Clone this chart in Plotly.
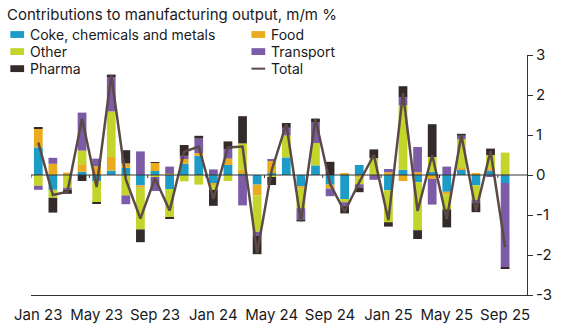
import plotly.graph_objects as go

months = ["Jan 23","Feb 23","Mar 23","Apr 23","May 23","Jun 23","Jul 23","Aug 23","Sep 23","Oct 23","Nov 23","Dec 23",
          "Jan 24","Feb 24","Mar 24","Apr 24","May 24","Jun 24","Jul 24","Aug 24","Sep 24","Oct 24","Nov 24","Dec 24",
          "Jan 25","Feb 25","Mar 25","Apr 25","May 25","Jun 25","Jul 25","Aug 25","Sep 25"]

coke = [0.69,-0.37,0.00,0.08,-0.16,0.11,0.18,-0.26,0.10,-0.35,0.28,0.48,
        -0.20,0.25,0.03,-0.24,0.05,0.44,-0.28,0.24,-0.24,-0.60,0.25,0.00,
        -0.38,0.13,-0.18,0.08,-0.42,0.13,-0.26,0.11,-0.20]
food = [0.47,0.28,0.06,0.19,0.22,0.34,0.11,-0.06,0.20,0.03,0.12,0.07,
        -0.05,0.16,0.10,-0.27,0.30,0.00,-0.05,0.00,-0.10,0.03,-0.06,0.00,
        0.07,-0.15,0.07,-0.10,-0.06,0.04,0.03,0.06,0.02]
other = [-0.27,-0.20,-0.32,0.34,-0.53,1.14,-0.51,-1.04,-0.05,-0.70,-0.16,-0.24,
         -0.12,-0.15,0.66,-0.91,-0.05,0.55,-0.50,0.56,0.00,-0.08,-0.17,0.42,
         -0.80,1.61,-1.20,0.37,-0.38,0.73,-0.36,0.33,0.54]
transport = [-0.10,0.15,-0.05,0.95,0.19,0.88,-0.22,0.59,-0.35,0.18,0.08,0.36,
             0.14,0.24,-0.76,-0.10,0.04,0.19,-0.28,0.51,-0.19,-0.10,-0.08,-0.12,
             0.08,0.20,0.63,-0.64,0.21,0.08,-0.08,-0.05,-2.10]
pharma = [0.02,-0.37,-0.10,-0.15,-0.02,0.04,0.33,-0.32,0.02,-0.04,0.27,0.07,
          -0.40,0.19,0.68,-0.46,-0.20,0.12,-0.05,0.10,0.33,-0.18,-0.12,0.22,
          -0.11,0.28,-0.22,0.82,-0.45,0.05,-0.23,0.16,-0.04]
total = [0.81,-0.50,-0.42,1.41,-0.30,2.50,-0.11,-1.09,-0.08,-0.89,0.58,0.71,
         -0.60,0.69,0.71,-1.95,0.12,1.28,-1.16,1.40,-0.22,-0.92,-0.18,0.50,
         -1.13,2.05,-0.90,0.50,-1.10,1.00,-0.90,0.60,-1.80]

series_names = ["Coke, chemicals and metals", "Food", "Other", "Transport", "Pharma"]
series_values = [coke, food, other, transport, pharma]
series_colors = ["#1c9cc6", "#e9ac1e", "#c3d52b", "#7c5ca6", "#342a29"]
total_name = "Total"
total_color = "#5b4a46"

xtick_idx = [0, 4, 8, 12, 16, 20, 24, 28, 32]
xtick_labels = ["Jan 23","May 23","Sep 23","Jan 24","May 24","Sep 24","Jan 25","May 25","Sep 25"]
boundary_ticks = [-0.5, 3.5, 7.5, 11.5, 15.5, 19.5, 23.5, 27.5, 31.5]
ytick_vals = [-3, -2, -1, 0, 1, 2, 3]
ytick_text = ["-3", "-2", "-1", "0", "1", "2", "3"]

W, H = 564, 336
L, R, T, B = 31, 535, 55, 301
FONT = "Inter"
FS = 15
LFS = 14
TXT = "#1a1a1a"

def px(x):
    return (x - L) / (R - L)

def py(y):
    return (B - y) / (B - T)

x = list(range(len(months)))
fig = go.Figure()
for name, vals, col in zip(series_names, series_values, series_colors):
    fig.add_trace(go.Bar(x=x, y=vals, name=name, marker=dict(color=col, line=dict(width=0)),
                         showlegend=False, hovertext=months))
fig.add_trace(go.Scatter(x=x, y=total, name=total_name, mode="lines",
                         line=dict(color=total_color, width=2.5), showlegend=False))

shapes = []
annotations = []
shapes.append(dict(type="line", xref="paper", yref="y", x0=0, x1=1, y0=0, y1=0,
                   line=dict(color="#333333", width=1), layer="above"))
for b in boundary_ticks:
    shapes.append(dict(type="line", xref="x", yref="y", ysizemode="pixel", yanchor=0,
                       x0=b, x1=b, y0=0, y1=-3, line=dict(color="#333333", width=1)))

legend_items = list(zip(series_names, series_colors)) + [(total_name, total_color)]
col_x = [10, 255]
row_y = [34, 51.5, 69]
for k, (name, col) in enumerate(legend_items):
    cx = col_x[k % 2]
    ry = row_y[k // 2]
    if name == total_name:
        shapes.append(dict(type="line", xref="paper", yref="paper",
                           x0=px(cx), x1=px(cx + 14), y0=py(ry), y1=py(ry),
                           line=dict(color=col, width=2)))
    else:
        shapes.append(dict(type="rect", xref="paper", yref="paper",
                           x0=px(cx), x1=px(cx + 14), y0=py(ry - 3.5), y1=py(ry + 3.5),
                           line=dict(width=0), fillcolor=col))
    annotations.append(dict(text=name, xref="paper", yref="paper", x=px(cx + 19), y=py(ry),
                            xanchor="left", yanchor="middle", showarrow=False,
                            borderpad=0, font=dict(family=FONT, size=LFS, color=TXT)))

fig.update_layout(
    width=W, height=H,
    margin=dict(l=L, r=W - R, t=T, b=H - B, pad=0),
    paper_bgcolor="white", plot_bgcolor="white",
    barmode="relative", bargap=0.4,
    title=dict(text="Contributions to manufacturing output, m/m %", x=7 / W, xref="container",
               xanchor="left", y=1 - 15 / H, yref="container", yanchor="middle",
               font=dict(family=FONT, size=FS, color=TXT)),
    xaxis=dict(range=[-0.5, 33.5], tickvals=xtick_idx, ticktext=xtick_labels, ticks="",
               showline=True, linecolor="#333333", linewidth=1, showgrid=False, zeroline=False,
               tickfont=dict(family=FONT, size=FS, color=TXT), ticklabelstandoff=6),
    yaxis=dict(range=[-3, 3], side="right", tickvals=ytick_vals, ticktext=ytick_text,
               ticks="outside", ticklen=5, tickcolor="#333333", showline=True,
               linecolor="#333333", linewidth=1, showgrid=False, zeroline=False,
               tickfont=dict(family=FONT, size=FS, color=TXT)),
    shapes=shapes, annotations=annotations,
)

fig.write_html("out.html")
